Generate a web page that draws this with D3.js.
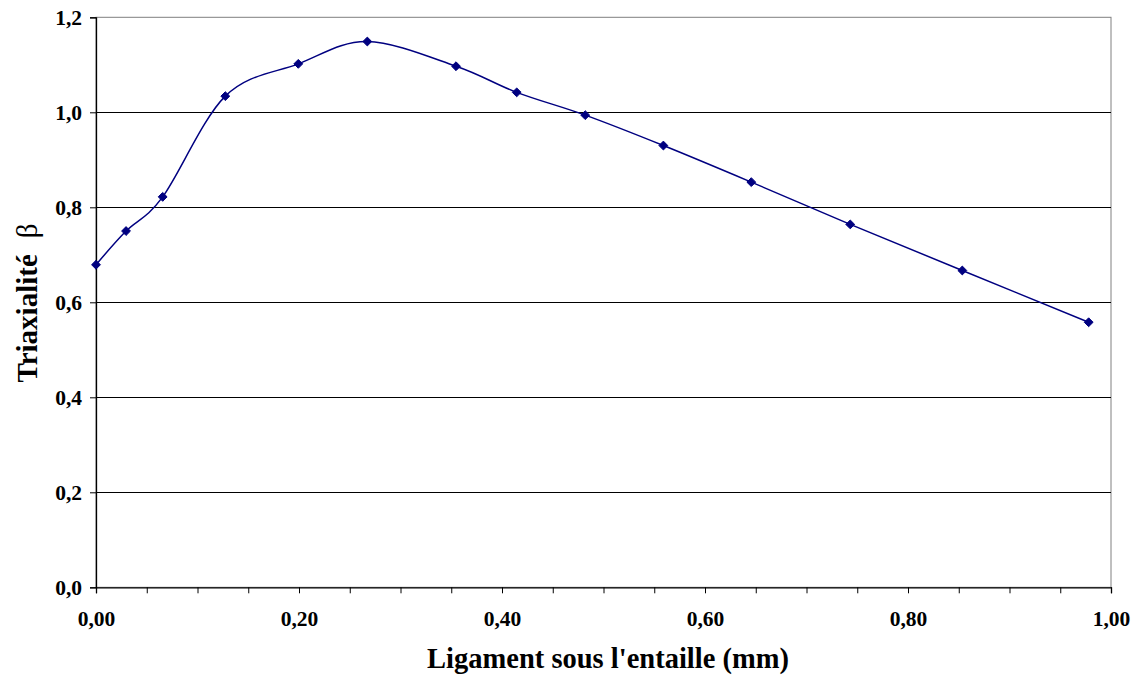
<!DOCTYPE html>
<html><head><meta charset="utf-8">
<script src="https://cdn.jsdelivr.net/npm/d3@7"></script>
<style>body{margin:0;background:#fff;}</style>
</head><body>
<svg id="c" width="1138" height="679"></svg>
<script>
const ligament = [0, 0.0296, 0.0657, 0.1274, 0.1993, 0.2673, 0.3547, 0.4145, 0.482, 0.559, 0.6456, 0.7431, 0.8535, 0.978];
const triaxialite = [0.679, 0.750, 0.822, 1.034, 1.102, 1.149, 1.097, 1.042, 0.994, 0.930, 0.853, 0.764, 0.667, 0.558];
const xTicks = [0, 0.2, 0.4, 0.6, 0.8, 1.0];
const yTicks = [0, 0.2, 0.4, 0.6, 0.8, 1.0, 1.2];
const xTitle = "Ligament sous l'entaille (mm)";
const yTitle = "Triaxialité";

const FONT = "'Liberation Serif', 'Times New Roman', serif";
const svg = d3.select("#c");
const L = 96, R = 1111, T = 17.3, B = 587.3;
const x = d3.scaleLinear().domain([0, 1]).range([L, R]);
const y = d3.scaleLinear().domain([0, 1.2]).range([B, T]);
const fmt = (d, n) => d.toFixed(n).replace(".", ",");

// plot border (gray)
svg.append("rect").attr("x", L).attr("y", T).attr("width", R - L).attr("height", B - T)
  .attr("fill", "none").attr("stroke", "#808080").attr("stroke-width", 1);

// gridlines
svg.append("g").selectAll("line").data(yTicks.filter(d => d > 0 && d < 1.2)).join("line")
  .attr("x1", L).attr("x2", R).attr("y1", d => Math.round(y(d)) + 0.5).attr("y2", d => Math.round(y(d)) + 0.5)
  .attr("stroke", "#000").attr("stroke-width", 1);

function styleAxis(g) {
  g.attr("font-family", FONT).attr("font-size", 21.5).attr("font-weight", "bold");
  g.select(".domain").attr("stroke", "#000").attr("stroke-width", 1.3);
  g.selectAll("text").style("font-size", "21.5px").style("font-family", FONT).style("font-weight", "bold").attr("fill", "#000");
}

// y axis
svg.append("g").attr("transform", `translate(${L},0)`)
  .call(d3.axisLeft(y).tickValues(yTicks).tickSize(6).tickPadding(8).tickFormat(d => fmt(d, 1)))
  .call(styleAxis);

// x axis
const minor = d3.range(0, 1.0001, 0.05);
svg.append("g").attr("transform", `translate(0,${B})`)
  .call(d3.axisBottom(x).tickValues(minor).tickSize(6).tickPadding(17)
    .tickFormat(d => xTicks.some(t => Math.abs(t - d) < 1e-6) ? fmt(d, 2) : ""))
  .call(styleAxis);

// titles
svg.append("text").attr("x", 608).attr("y", 668).attr("text-anchor", "middle")
  .style("font-family", FONT).style("font-weight", "bold").style("font-size", "28.5px").text(xTitle);
const yt = svg.append("text").attr("transform", "translate(37,303) rotate(-90)").attr("text-anchor", "middle")
  .style("font-family", FONT).style("font-weight", "bold").style("font-size", "29px");
yt.append("tspan").text(yTitle);
yt.append("tspan").attr("dx", 16).style("font-weight", "normal").text("β");

// line
const pts = ligament.map((d, i) => [x(d), y(triaxialite[i])]);
svg.append("path").attr("d", d3.line().curve(d3.curveCardinal.tension(0))(pts))
  .attr("fill", "none").attr("stroke", "#000080").attr("stroke-width", 1.5);

// markers
svg.append("g").selectAll("path").data(ligament).join("path")
  .attr("transform", (d, i) => `translate(${x(d)},${y(triaxialite[i])})`)
  .attr("d", d3.symbol(d3.symbolDiamond2, 50))
  .attr("fill", "#000080").attr("stroke", "#000080").attr("stroke-width", 1);
</script>
</body></html>
